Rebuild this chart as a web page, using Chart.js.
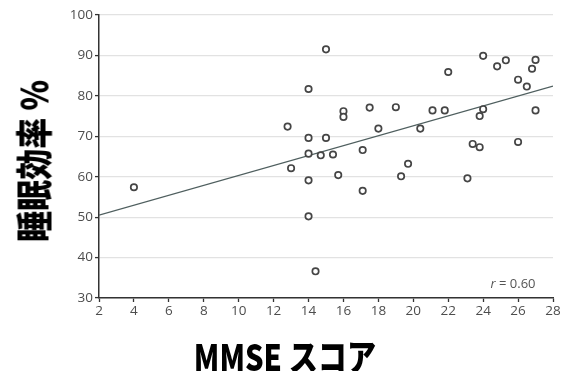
<!DOCTYPE html>
<html>
<head>
<meta charset="utf-8">
<script src="https://cdn.jsdelivr.net/npm/chart.js@4.4.1/dist/chart.umd.min.js"></script>
<style>
  html, body { margin: 0; padding: 0; background: #fff; }
  #wrap { position: relative; width: 564px; height: 371px; overflow: hidden; }
  #c { position: absolute; left: 0; top: 0; }
  .ttl {
    position: absolute;
    font-family: "Noto Sans CJK JP", "Noto Sans", sans-serif;
    font-weight: 900;
    color: #000;
    white-space: nowrap;
    line-height: 1;
  }
  #xTitle { left: 285px; top: 355px; font-size: 36px; transform: translate(-50%, -50%) scaleX(0.81); }
  #yTitle { left: 33px; top: 161px; font-size: 37px; transform: translate(-50%, -50%) rotate(-90deg) scaleX(0.84); }
</style>
</head>
<body>
<div id="wrap">
  <canvas id="c" width="564" height="371"></canvas>
  <div class="ttl" id="xTitle">MMSE スコア</div>
  <div class="ttl" id="yTitle">睡眠効率 %</div>
</div>
<script>
// MMSE score vs sleep efficiency
const mmse = [4.0, 12.8, 13.0, 14.0, 14.0, 14.0, 14.0, 14.0, 14.4, 14.7, 15.0, 15.0,
              15.4, 15.7, 16.0, 16.0, 17.1, 17.1, 17.5, 18.0, 19.0, 19.3, 19.7, 20.4,
              21.1, 21.8, 22.0, 23.1, 23.4, 23.8, 23.8, 24.0, 24.0, 24.8, 25.3, 26.0,
              26.0, 26.5, 26.8, 27.0, 27.0];
const efficiency = [57.4, 72.4, 62.1, 81.7, 69.6, 65.7, 59.1, 50.2, 36.6, 65.3, 91.5, 69.6,
                    65.5, 60.4, 76.2, 74.8, 66.6, 56.5, 77.1, 71.9, 77.2, 60.1, 63.2, 71.9,
                    76.4, 76.4, 85.9, 59.6, 68.1, 67.3, 75.0, 76.7, 89.9, 87.3, 88.8, 84.0,
                    68.6, 82.3, 86.7, 88.9, 76.4];
const fitX = [2, 28];
const fitY = [50.5, 82.4];
const rLabel = "0.60";

const points = mmse.map((x, i) => ({ x: x, y: efficiency[i] }));
const fitLine = fitX.map((x, i) => ({ x: x, y: fitY[i] }));

const tickFont = { family: "'Open Sans', 'DejaVu Sans', sans-serif", size: 13.5 };

const rNote = {
  id: 'rNote',
  afterDraw(chart) {
    const ctx = chart.ctx;
    const xs = chart.scales.x, ys = chart.scales.y;
    const px = xs.getPixelForValue(27), py = ys.getPixelForValue(33.5);
    ctx.save();
    ctx.fillStyle = '#555';
    ctx.textBaseline = 'middle';
    ctx.textAlign = 'right';
    ctx.font = "13px 'Open Sans', sans-serif";
    const rest = ' = ' + rLabel;
    ctx.fillText(rest, px, py);
    const w = ctx.measureText(rest).width;
    ctx.font = "italic 13px 'Open Sans', sans-serif";
    ctx.fillText('r', px - w, py);
    ctx.restore();
  }
};

new Chart(document.getElementById('c').getContext('2d'), {
  type: 'scatter',
  data: {
    datasets: [
      {
        type: 'line',
        data: fitLine,
        borderColor: '#4f5f5f',
        borderWidth: 1.3,
        pointRadius: 0,
        fill: false,
        order: 2
      },
      {
        data: points,
        pointRadius: 3.2,
        pointBorderWidth: 1.7,
        pointBorderColor: '#454545',
        pointBackgroundColor: '#fff',
        order: 1
      }
    ]
  },
  options: {
    responsive: false,
    animation: false,
    layout: { padding: { left: 0, right: 11, top: 15, bottom: 0 } },
    plugins: { legend: { display: false }, tooltip: { enabled: false } },
    scales: {
      x: {
        type: 'linear',
        min: 2, max: 28,
        afterFit: (s) => { s.height = 73; },
        ticks: { stepSize: 2, color: '#4d4d4d', font: tickFont, padding: 1 },
        grid: { drawOnChartArea: false, drawTicks: true, tickLength: 4, tickColor: '#333', tickWidth: 1.3 },
        border: { color: '#333', width: 1.5 }
      },
      y: {
        min: 30, max: 100,
        afterFit: (s) => { s.width = 99; },
        ticks: { stepSize: 10, color: '#4d4d4d', font: tickFont, padding: 2 },
        grid: { color: '#e2e2e2', lineWidth: 1.2, drawTicks: true, tickLength: 4, tickColor: '#333', tickWidth: 1.3 },
        border: { color: '#333', width: 1.5 }
      }
    }
  },
  plugins: [rNote]
});
</script>
</body>
</html>
